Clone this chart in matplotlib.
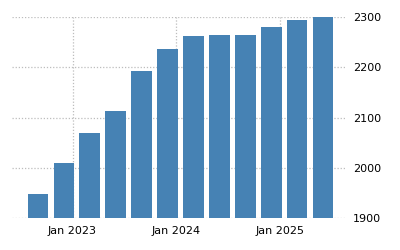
import pandas as pd
import matplotlib.pyplot as plt

# ── Data ─────────────────────────────────────────────────────────────────────

dates  = pd.to_datetime([
    "2022-09-01", "2022-12-01", "2023-03-01", "2023-06-01",
    "2023-09-01", "2023-12-01", "2024-03-01", "2024-06-01",
    "2024-09-01", "2024-12-01", "2025-03-01", "2025-06-01",
])
values = [1948, 2010, 2069, 2113, 2193, 2237, 2262, 2264, 2264, 2280, 2294, 2300]

y_ticks  = [1900, 2000, 2100, 2200, 2300]
x_ticks  = pd.to_datetime(["2023-01-01", "2024-01-01", "2025-01-01"])
x_labels = ["Jan 2023", "Jan 2024", "Jan 2025"]

# ── Plot ─────────────────────────────────────────────────────────────────────

fig = plt.figure(figsize=(4, 2.5), dpi=100)
ax  = fig.add_axes([0.03, 0.128, 0.835, 0.803])

ax.bar(dates, values, width=72, color="#4682B4", zorder=3)

ax.set_ylim(1900, 2300)
ax.set_xlim(pd.Timestamp("2022-06-02"), pd.Timestamp("2025-08-20"))

ax.yaxis.tick_right()
ax.set_yticks(y_ticks)
ax.set_xticks(x_ticks)
ax.set_xticklabels(x_labels)

ax.grid(True, color="#bdbdbd", linestyle=(0, (1, 1.5)), linewidth=0.9, zorder=0)
for s in ax.spines.values():
    s.set_visible(False)

ax.tick_params(axis="both", length=0, labelsize=8, colors="black")
ax.tick_params(axis="y", pad=5)
ax.tick_params(axis="x", pad=6)

fig.savefig("out.png", dpi=100)
